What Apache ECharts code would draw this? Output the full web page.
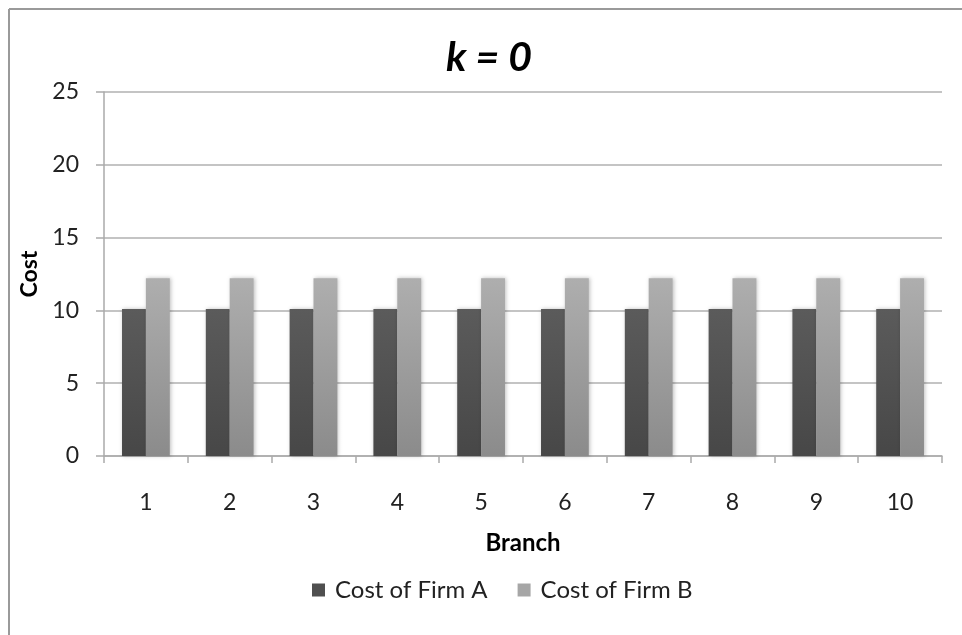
<!DOCTYPE html>
<html>
<head>
<meta charset="utf-8">
<script src="https://cdn.jsdelivr.net/npm/echarts@6/dist/echarts.min.js"></script>
<style>
  html, body { margin: 0; padding: 0; background: #fff; }
  #chart { width: 962px; height: 635px; }
</style>
</head>
<body>
<div id="chart"></div>
<script>
// Branch costs for the two firms when k = 0
const branches = ['1', '2', '3', '4', '5', '6', '7', '8', '9', '10'];
const costFirmA = [10.1, 10.1, 10.1, 10.1, 10.1, 10.1, 10.1, 10.1, 10.1, 10.1];
const costFirmB = [12.2, 12.2, 12.2, 12.2, 12.2, 12.2, 12.2, 12.2, 12.2, 12.2];
const costTicks = [0, 5, 10, 15, 20, 25];

const FONT = 'Lato, "Open Sans", sans-serif';

function vGrad(top, bottom) {
  return new echarts.graphic.LinearGradient(0, 0, 0, 1, [
    { offset: 0, color: top },
    { offset: 1, color: bottom }
  ]);
}

const chart = echarts.init(document.getElementById('chart'), null, { renderer: 'canvas' });

chart.setOption({
  animation: false,
  backgroundColor: '#ffffff',
  title: {
    text: 'k = 0',
    left: 441,
    top: 32,
    textStyle: { fontFamily: FONT, fontSize: 41, fontWeight: 'bold', fontStyle: 'italic', color: '#000' }
  },
  legend: {
    bottom: 28,
    left: 307,
    itemWidth: 13,
    itemHeight: 13,
    itemGap: 30,
    icon: 'rect',
    textStyle: { fontFamily: FONT, fontSize: 24, color: '#222', padding: [0, 0, 0, 5] },
    data: [
      { name: 'Cost of Firm A', itemStyle: { color: '#4f4f4f' } },
      { name: 'Cost of Firm B', itemStyle: { color: '#a6a6a6' } }
    ]
  },
  grid: { left: 104, right: 20, top: 92, bottom: 179, containLabel: false },
  xAxis: {
    type: 'category',
    data: branches,
    name: 'Branch',
    nameLocation: 'middle',
    nameGap: 75,
    nameTextStyle: { fontFamily: FONT, fontSize: 24, fontWeight: 'bold', color: '#000' },
    axisLine: { lineStyle: { color: '#aaaaaa', width: 1.5 } },
    axisTick: { show: true, length: 7, lineStyle: { color: '#aaaaaa', width: 1.5 } },
    axisLabel: { fontFamily: FONT, fontSize: 23, color: '#222', margin: 35 }
  },
  yAxis: {
    type: 'value',
    min: costTicks[0],
    max: costTicks[costTicks.length - 1],
    interval: 5,
    name: 'Cost',
    nameLocation: 'middle',
    nameGap: 60,
    nameRotate: 90,
    nameTextStyle: { fontFamily: FONT, fontSize: 23, fontWeight: 'bold', color: '#000' },
    axisLine: { show: true, lineStyle: { color: '#aaaaaa', width: 1.5 } },
    axisTick: { show: true, length: 8, lineStyle: { color: '#aaaaaa', width: 1.5 } },
    axisLabel: { fontFamily: FONT, fontSize: 23, color: '#222', margin: 25 },
    splitLine: { lineStyle: { color: '#b0b0b0', width: 1.5 } }
  },
  series: [
    {
      name: 'Cost of Firm A',
      type: 'bar',
      data: costFirmA,
      barGap: '0%',
      barCategoryGap: '43%',
      itemStyle: {
        color: vGrad('#5b5b5b', '#474747'),
        shadowBlur: 4,
        shadowColor: 'rgba(0,0,0,0.25)',
        shadowOffsetX: 1
      }
    },
    {
      name: 'Cost of Firm B',
      type: 'bar',
      data: costFirmB,
      itemStyle: {
        color: vGrad('#aeaeae', '#8b8b8b'),
        shadowBlur: 4,
        shadowColor: 'rgba(0,0,0,0.25)',
        shadowOffsetX: 1
      }
    }
  ],
  graphic: [
    // frame edges along the top and left of the chart area
    { type: 'line', shape: { x1: 9, y1: 9, x2: 962, y2: 9 }, style: { stroke: '#9a9a9a', lineWidth: 2 }, silent: true },
    { type: 'line', shape: { x1: 9, y1: 9, x2: 9, y2: 635 }, style: { stroke: '#9a9a9a', lineWidth: 2 }, silent: true }
  ]
});
</script>
</body>
</html>
